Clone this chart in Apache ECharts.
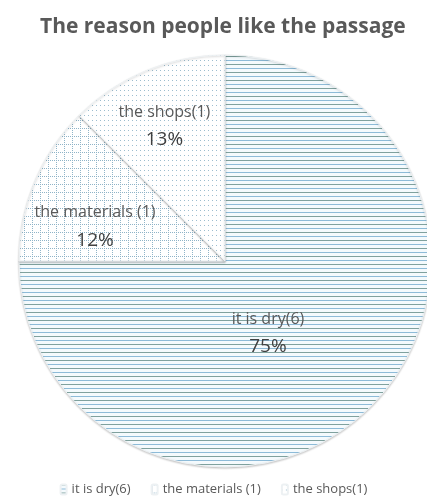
<!DOCTYPE html>
<html><head><meta charset="utf-8">
<script src="https://cdn.jsdelivr.net/npm/echarts@6/dist/echarts.min.js"></script>
<style>html,body{margin:0;padding:0;background:#fff}#c{width:427px;height:504px}</style>
</head><body><div id="c"></div>
<script>
const categories = ['it is dry(6)', 'the materials (1)', 'the shops(1)'];
const counts = [6, 1, 1];
const percentLabels = ['75%', '12%', '13%'];
const titleText = 'The reason people like the passage';

function tile(w, h, draw) {
  const c = document.createElement('canvas');
  c.width = w; c.height = h;
  const g = c.getContext('2d');
  draw(g);
  return { image: c, repeat: 'repeat' };
}
const dryPattern = tile(1, 8, g => {
  g.fillStyle = '#f4fafd'; g.fillRect(0, 0, 1, 8);
  g.fillStyle = '#7fa19e'; g.fillRect(0, 0, 1, 1);
  g.fillStyle = '#8dbbd8'; g.fillRect(0, 4, 1, 1);
});
const matPattern = tile(8, 8, g => {
  g.fillStyle = '#ffffff'; g.fillRect(0, 0, 8, 8);
  g.fillStyle = '#8fb4c8';
  for (let i = 0; i < 8; i += 2) { g.fillRect(i, 0, 1, 1); g.fillRect(0, i, 1, 1); }
});
const shopPattern = tile(4, 5, g => {
  g.fillStyle = '#ffffff'; g.fillRect(0, 0, 4, 5);
  g.fillStyle = '#9dbdcf'; g.fillRect(0, 0, 1, 1);
});
const patterns = [dryPattern, matPattern, shopPattern];
const labelShift = [[-32, -3], [-32, 6], [-20, -37]];

const chart = echarts.init(document.getElementById('c'));
chart.setOption({
  animation: false,
  title: {
    text: titleText, left: 35, top: 12,
    textStyle: { fontFamily: 'Open Sans', fontSize: 21, fontWeight: 'bold', color: '#595959' }
  },
  legend: {
    bottom: 3, left: 'center', itemWidth: 6, itemHeight: 10, itemGap: 20,
    textStyle: { fontFamily: 'Open Sans', fontSize: 13, color: '#595959' },
    data: categories
  },
  series: [{
    type: 'pie',
    center: [225, 261],
    radius: 206,
    startAngle: 90,
    clockwise: true,
    itemStyle: { borderColor: '#edf1f3', borderWidth: 1, shadowBlur: 2, shadowOffsetY: 1, shadowColor: 'rgba(0,0,0,0.2)' },
    label: {
      position: 'inside',
      formatter: p => '{n|' + p.name + '}\n{v|' + percentLabels[p.dataIndex] + '}',
      rich: {
        n: { fontFamily: 'Open Sans', fontSize: 16, color: '#595959', lineHeight: 28 },
        v: { fontFamily: 'Open Sans', fontSize: 19, color: '#404040', lineHeight: 28 }
      }
    },
    labelLayout: p => ({ dx: labelShift[p.dataIndex][0], dy: labelShift[p.dataIndex][1] }),
    data: categories.map((n, i) => ({ name: n, value: counts[i], itemStyle: { color: patterns[i] } }))
  }]
});
</script></body></html>
